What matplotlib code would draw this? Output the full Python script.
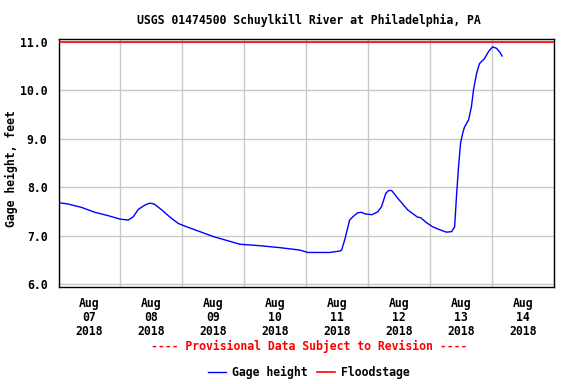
import numpy as np
import pandas as pd
import matplotlib
matplotlib.use("Agg")
import matplotlib.pyplot as plt

# hours since Aug 07 2018 00:00 and gage height (feet)
hours = [0, 3.8, 9.0, 14.1, 19.3, 23.8, 27.0, 29.0, 30.9, 33.5, 35.4, 37.1,
         40.0, 43.2, 46.4, 48.7, 54.8, 59.9, 70.3, 78.0, 85.7, 93.5, 96.6,
         105.1, 109.0, 109.7, 110.9, 112.8, 114.1, 115.9, 117.5, 118.6, 121.4,
         123.7, 125.2, 126.8, 127.9, 129.1, 131.0, 133.7, 135.3, 137.6, 139.1,
         140.3, 142.5, 145.0, 147.7, 150.3, 152.3, 153.5, 154.2, 155.0, 155.8,
         156.6, 157.3, 158.9, 160.0, 160.8, 162.0, 163.1, 165.1, 166.6, 168.2,
         169.7, 170.9, 171.9]
gage = [7.68, 7.65, 7.58, 7.48, 7.41, 7.34, 7.32, 7.39, 7.54, 7.63, 7.67, 7.65,
        7.53, 7.38, 7.25, 7.20, 7.08, 6.98, 6.82, 6.79, 6.75, 6.70, 6.65,
        6.65, 6.68, 6.70, 6.91, 7.32, 7.39, 7.47, 7.48, 7.45, 7.43,
        7.49, 7.60, 7.87, 7.93, 7.93, 7.80, 7.63, 7.53, 7.44, 7.38,
        7.37, 7.27, 7.18, 7.12, 7.07, 7.08, 7.18, 7.80, 8.42, 8.91,
        9.11, 9.24, 9.39, 9.66, 10.01, 10.35, 10.55, 10.66, 10.80, 10.90,
        10.87, 10.80, 10.71]
floodstage = 11.0
start = pd.Timestamp("2018-08-07 00:00")
end = pd.Timestamp("2018-08-15 00:00")
day_labels = ["Aug\n07\n2018", "Aug\n08\n2018", "Aug\n09\n2018", "Aug\n10\n2018",
              "Aug\n11\n2018", "Aug\n12\n2018", "Aug\n13\n2018", "Aug\n14\n2018"]
yticks = [6.0, 7.0, 8.0, 9.0, 10.0, 11.0]

plt.rcParams['font.family'] = ['DejaVu Sans Mono']
plt.rcParams['font.weight'] = 'bold'
fs = 8.3

times = start + pd.to_timedelta(hours, unit="h")

fig = plt.figure(figsize=(5.76, 3.84), dpi=100)
ax = fig.add_axes([0.1016, 0.2518, 0.8602, 0.6459])

# grid: day boundaries and whole feet
for d in pd.date_range(start, end, freq="D"):
    ax.axvline(d, color="#c8c8c8", lw=1.0, zorder=1)
for y in yticks:
    ax.axhline(y, color="#c8c8c8", lw=1.0, zorder=1)

ax.plot(times, gage, color="blue", lw=1.0, zorder=3, label="Gage height")
ax.axhline(floodstage, color="red", lw=1.2, zorder=3, label="Floodstage")

ax.set_xlim(start, end)
ax.set_ylim(5.93, 11.056)

noon = pd.date_range(start + pd.Timedelta(hours=12), periods=len(day_labels), freq="D")
ax.set_xticks(noon)
ax.set_xticklabels(day_labels, fontsize=fs, fontweight="bold", linespacing=1.1)
ax.set_yticks(yticks)
ax.set_yticklabels([f"{v:.1f}" for v in yticks], fontsize=fs, fontweight="bold")
ax.tick_params(length=0, pad=8)
ax.tick_params(axis="x", pad=7)

for s in ax.spines.values():
    s.set_linewidth(1.0)
    s.set_color("black")

ax.set_ylabel("Gage height, feet", fontsize=fs, fontweight="bold")
ax.yaxis.set_label_coords(-0.082, 0.48)
fig.text(0.536, 0.948, "USGS 01474500 Schuylkill River at Philadelphia, PA",
         ha="center", va="center", fontsize=fs, fontweight="bold")
fig.text(0.536, 0.099, "---- Provisional Data Subject to Revision ----",
         ha="center", va="center", fontsize=fs, fontweight="bold", color="red")

fig.legend(loc="center", bbox_to_anchor=(0.536, 0.029), ncol=2, frameon=False,
           handlelength=1.6, handletextpad=0.5, columnspacing=0.8,
           prop={"size": fs, "weight": "bold"})

fig.savefig("out.png", dpi=100)
